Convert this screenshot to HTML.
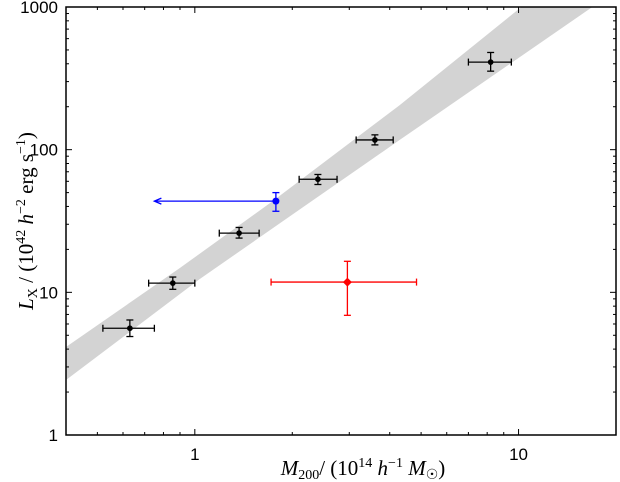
<!DOCTYPE html>
<html><head><meta charset="utf-8"><style>
body{margin:0;background:#fff;}
#chart text{font-family:"Liberation Sans",sans-serif;}
.ser text{font-family:"Liberation Serif",serif;}
</style></head><body>
<svg id="chart" width="620" height="482" xmlns="http://www.w3.org/2000/svg" style="position:absolute;left:0;top:0"></svg>
<script>
const ptsM=[0.63,0.855,1.37,2.4,3.6,8.2];
const ptsMlo=[0.52,0.72,1.19,2.1,3.15,7.0];
const ptsMhi=[0.75,1.0,1.58,2.75,4.1,9.5];
const ptsL=[5.6,11.6,26,62,117,411];
const ptsLlo=[4.9,10.5,24,57,108,355];
const ptsLhi=[6.4,12.8,28.5,67,127,480];
const blueM=[1.78], blueMarrow=[0.75], blueL=[43.6], blueLlo=[37], blueLhi=[50];
const redM=[2.96], redMlo=[1.72], redMhi=[4.84], redL=[11.8], redLlo=[6.9], redLhi=[16.5];
const bandUpper=[[0.4,4.14],[0.899,14.8],[1.74,43.6],[4.29,205],[10.2,1000]];
const bandLower=[[0.4,2.43],[1.036,12.4],[4.29,116.8],[16.9,1000]];
const yTicks=[1,10,100,1000], yTickLabels=["1","10","100","1000"];
const xTicks=[1,10], xTickLabels=["1","10"];
const L=66,R=616,T=7,B=435,xmin=0.4,xmax=20,ymin=1,ymax=1000;
const X=v=>L+(Math.log10(v)-Math.log10(xmin))/(Math.log10(xmax)-Math.log10(xmin))*(R-L);
const Y=v=>B-(Math.log10(v)-Math.log10(ymin))/(Math.log10(ymax)-Math.log10(ymin))*(B-T);
const svg=document.getElementById('chart');const NS='http://www.w3.org/2000/svg';
function mk(t,a,p){const e=document.createElementNS(NS,t);for(const k in a)e.setAttribute(k,a[k]);(p||svg).appendChild(e);return e;}
const clip=mk('clipPath',{id:'cp'});mk('rect',{x:L,y:T,width:R-L,height:B-T},clip);
const band=mk('polygon',{points:bandUpper.map(p=>X(p[0])+','+Y(p[1])).concat(bandLower.slice().reverse().map(p=>X(p[0])+','+Y(p[1]))).join(' '),fill:'#d3d3d3','clip-path':'url(#cp)'});


function errbar(m,mlo,mhi,l,llo,lhi,col,name){
 const g=mk('g',{stroke:col,'stroke-width':1.3,fill:col});
 
 
 const x=X(m),y=Y(l);
 mk('line',{x1:X(mlo),x2:X(mhi),y1:y,y2:y},g);
 mk('line',{x1:X(mlo),x2:X(mlo),y1:y-3.5,y2:y+3.5},g);
 mk('line',{x1:X(mhi),x2:X(mhi),y1:y-3.5,y2:y+3.5},g);
 mk('line',{x1:x,x2:x,y1:Y(llo),y2:Y(lhi)},g);
 mk('line',{x1:x-3.5,x2:x+3.5,y1:Y(llo),y2:Y(llo)},g);
 mk('line',{x1:x-3.5,x2:x+3.5,y1:Y(lhi),y2:Y(lhi)},g);
 return g;
}
for(let i=0;i<ptsM.length;i++){
 const g=errbar(ptsM[i],ptsMlo[i],ptsMhi[i],ptsL[i],ptsLlo[i],ptsLhi[i],'#000','cluster-point');
 mk('circle',{cx:X(ptsM[i]),cy:Y(ptsL[i]),r:2.2},g);
}
const bg=mk('g',{stroke:'#0000ff','stroke-width':1.3,fill:'#0000ff'});


const bx=X(blueM[0]),by=Y(blueL[0]);
mk('line',{x1:X(blueMarrow[0]),x2:bx,y1:by,y2:by},bg);
mk('polyline',{points:`${X(blueMarrow[0])+7},${by-3} ${X(blueMarrow[0])},${by} ${X(blueMarrow[0])+7},${by+3}`,fill:'none'},bg);
mk('line',{x1:bx,x2:bx,y1:Y(blueLlo[0]),y2:Y(blueLhi[0])},bg);
mk('line',{x1:bx-3.5,x2:bx+3.5,y1:Y(blueLlo[0]),y2:Y(blueLlo[0])},bg);
mk('line',{x1:bx-3.5,x2:bx+3.5,y1:Y(blueLhi[0]),y2:Y(blueLhi[0])},bg);
mk('circle',{cx:bx,cy:by,r:3.5,stroke:'none'},bg);
const rg=errbar(redM[0],redMlo[0],redMhi[0],redL[0],redLlo[0],redLhi[0],'#ff0000','red-point');
const rx=X(redM[0]),ry=Y(redL[0]);
mk('polygon',{points:`${rx},${ry-4.5} ${rx+4.5},${ry} ${rx},${ry+4.5} ${rx-4.5},${ry}`,stroke:'none'},rg);
const fr=mk('rect',{x:L,y:T,width:R-L,height:B-T,fill:'none',stroke:'#000','stroke-width':1.5});


for(let d=0;d<3;d++)for(let k=1;k<10;k++){const v=Math.pow(10,d)*k;const y=Y(v);const len=k==1?6:3;
 mk('line',{x1:L,x2:L+len,y1:y,y2:y,stroke:'#000','stroke-width':1});mk('line',{x1:R,x2:R-len,y1:y,y2:y,stroke:'#000','stroke-width':1});}
for(let d=-1;d<2;d++)for(let k=1;k<10;k++){const v=Math.pow(10,d)*k;if(v<xmin||v>xmax)continue;const x=X(v);const len=k==1?6:3;
 mk('line',{x1:x,x2:x,y1:B,y2:B-len,stroke:'#000','stroke-width':1});mk('line',{x1:x,x2:x,y1:T,y2:T+len,stroke:'#000','stroke-width':1});}
yTicks.forEach((v,i)=>{const t=mk('text',{x:L-8,y:Y(v)+6,'text-anchor':'end','font-size':17});t.textContent=yTickLabels[i];
 
 });
xTicks.forEach((v,i)=>{const t=mk('text',{x:X(v),y:B+25,'text-anchor':'middle','font-size':17});t.textContent=xTickLabels[i];
 
 });
</script>
<svg class="ser" style="position:absolute;left:0;top:0" width="620" height="482">
<text x="363" y="475" text-anchor="middle" font-size="21"><tspan font-style="italic">M</tspan><tspan font-size="14" dy="4">200</tspan><tspan dy="-4">/ (10</tspan><tspan font-size="14" dy="-8">14</tspan><tspan dy="8"> </tspan><tspan font-style="italic">h</tspan><tspan font-size="14" dy="-8">−1</tspan><tspan dy="8"> </tspan><tspan font-style="italic">M</tspan><tspan font-size="14" dy="4">☉</tspan><tspan dy="-4">)</tspan></text>
<text transform="translate(33,221) rotate(-90)" text-anchor="middle" font-size="21"><tspan font-style="italic">L</tspan><tspan font-size="14" dy="4">X</tspan><tspan dy="-4"> / (10</tspan><tspan font-size="14" dy="-8">42</tspan><tspan dy="8"> </tspan><tspan font-style="italic">h</tspan><tspan font-size="14" dy="-8">−2</tspan><tspan dy="8"> erg s</tspan><tspan font-size="14" dy="-8">−1</tspan><tspan dy="8">)</tspan></text>
</svg>
</body></html>
